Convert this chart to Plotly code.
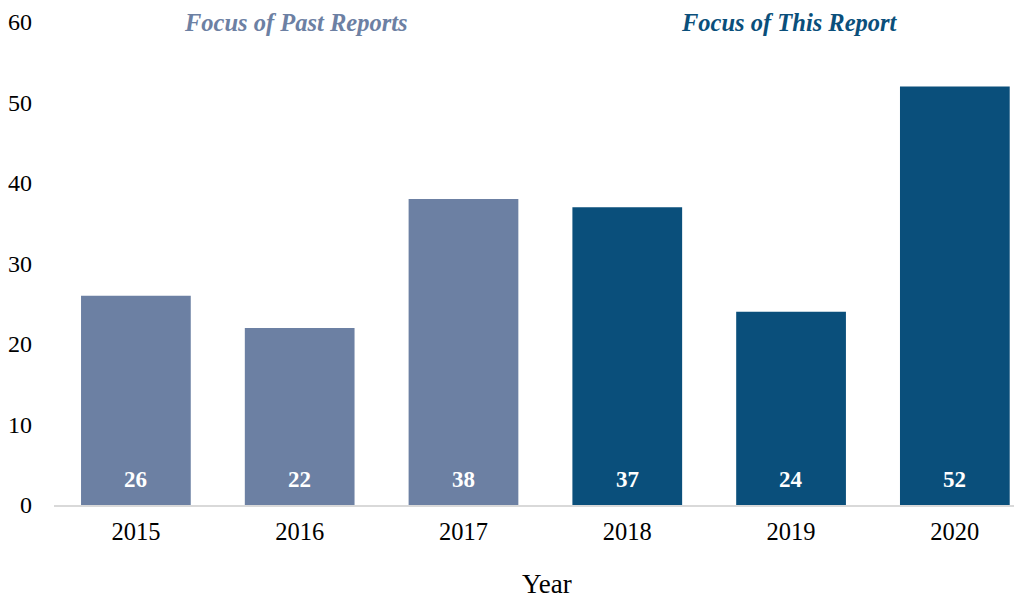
import plotly.graph_objects as go

years = ["2015", "2016", "2017", "2018", "2019", "2020"]
values = [26, 22, 38, 37, 24, 52]
groups = ["past", "past", "past", "this", "this", "this"]
group_colors = {"past": "#6C80A3", "this": "#0A4F7B"}
header_labels = ["Focus of Past Reports", "Focus of This Report"]
header_years = ["2016", "2019"]
header_colors = ["#6C80A3", "#0A4F7B"]
x_title = "Year"

FONT = "Liberation Serif, Times New Roman, serif"

fig = go.Figure()
fig.add_trace(go.Bar(
    x=years, y=values,
    marker=dict(color=[group_colors[g] for g in groups], line=dict(width=0)),
    width=0.67,
    hoverinfo="x+y",
))

# value labels at the base of each bar (category index positions)
for i, v in enumerate(values):
    fig.add_annotation(
        x=i, y=0, xref="x", yref="paper", text=f"<b>{v}</b>",
        showarrow=False, font=dict(family=FONT, size=23, color="white"),
        xanchor="center", yanchor="bottom", yshift=11,
    )

for lab, yr, col, xs in zip(header_labels, header_years, header_colors, [-4, -2]):
    fig.add_annotation(
        x=years.index(yr), y=1, xref="x", yref="paper", text=f"<b><i>{lab}</i></b>",
        showarrow=False, font=dict(family=FONT, size=24.5, color=col),
        xanchor="center", yanchor="middle", xshift=xs,
    )

# x-axis title
fig.add_annotation(
    x=0.5, y=0, xref="paper", yref="paper", text=x_title,
    showarrow=False, font=dict(family=FONT, size=27, color="black"),
    xanchor="center", yanchor="middle", xshift=9, yshift=-79,
)

fig.update_layout(
    width=1022, height=597,
    margin=dict(l=46, r=8, t=14, b=100, autoexpand=False),
    paper_bgcolor="white", plot_bgcolor="white",
    showlegend=False,
    font=dict(family=FONT, size=24, color="black"),
    xaxis=dict(
        type="category", range=[-0.5, 5.41], automargin=False,
        showline=True, linecolor="#D9D9D9", linewidth=2,
        ticks="", showgrid=False, zeroline=False,
        tickfont=dict(family=FONT, size=24.5, color="black"),
        ticklabelstandoff=4,
    ),
    yaxis=dict(
        range=[0, 60], dtick=10, showgrid=False, zeroline=False, automargin=False,
        showline=False, ticks="",
        tickfont=dict(family=FONT, size=24, color="black"),
        ticklabelstandoff=21,
    ),
)

fig.write_html("out.html")
